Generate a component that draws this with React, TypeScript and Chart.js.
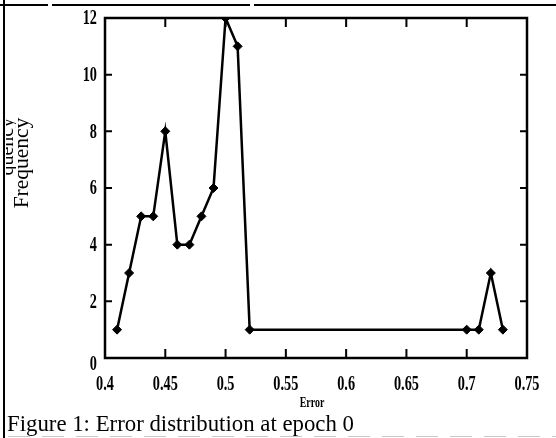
import React, { useEffect, useRef } from "react";
import { Chart, registerables } from "chart.js";

Chart.register(...registerables);

// Error histogram at epoch 0
const errors = [0.41, 0.42, 0.43, 0.44, 0.45, 0.46, 0.47, 0.48, 0.49, 0.5, 0.51, 0.52, 0.7, 0.71, 0.72, 0.73];
const frequencies = [1, 3, 5, 5, 8, 4, 4, 5, 6, 12, 11, 1, 1, 1, 3, 1];

const xTickLabels = ["0.4", "0.45", "0.5", "0.55", "0.6", "0.65", "0.7", "0.75"];
const yTickLabels = ["0", "2", "4", "6", "8", "10", "12"];

const xTitle = "Error";
const yTitle = "Frequency";
const caption = "Figure 1: Error distribution at epoch 0";

const W = 556;
const H = 438;

const TICK_FONT = 'bold 21px "Liberation Serif"';
const SQUEEZE = 0.68;

function squeezedText(ctx: CanvasRenderingContext2D, text: string, x: number, y: number, sx: number) {
  ctx.save();
  ctx.translate(x, y);
  ctx.scale(sx, 1);
  ctx.fillText(text, 0, 0);
  ctx.restore();
}

const framePlugin = {
  id: "framePlugin",
  afterDraw(chart: any) {
    const ctx: CanvasRenderingContext2D = chart.ctx;
    const { left, right, top, bottom } = chart.chartArea;
    const xs = chart.scales.x;
    const ys = chart.scales.y;
    ctx.save();
    ctx.strokeStyle = "#000";
    ctx.fillStyle = "#000";

    // plot frame
    ctx.lineWidth = 2.5;
    ctx.strokeRect(left, top, right - left, bottom - top);

    // inward ticks on all four sides
    ctx.lineWidth = 2;
    ctx.beginPath();
    xTickLabels.forEach((lab, i) => {
      if (i === 0 || i === xTickLabels.length - 1) return;
      const px = xs.getPixelForValue(Number(lab));
      ctx.moveTo(px, bottom);
      ctx.lineTo(px, bottom - 9);
      ctx.moveTo(px, top);
      ctx.lineTo(px, top + 9);
    });
    yTickLabels.forEach((lab, i) => {
      if (i === 0 || i === yTickLabels.length - 1) return;
      const py = ys.getPixelForValue(Number(lab));
      ctx.moveTo(left, py);
      ctx.lineTo(left + 7, py);
      ctx.moveTo(right, py);
      ctx.lineTo(right - 7, py);
    });
    ctx.stroke();

    // tick labels
    ctx.font = TICK_FONT;
    ctx.textBaseline = "middle";
    ctx.textAlign = "center";
    xTickLabels.forEach((lab) => {
      const px = xs.getPixelForValue(Number(lab));
      squeezedText(ctx, lab, px, bottom + 27, SQUEEZE);
    });
    ctx.textAlign = "right";
    yTickLabels.forEach((lab, i) => {
      const py = ys.getPixelForValue(Number(lab)) + (i === 0 ? 7 : 1);
      squeezedText(ctx, lab, left - 8, py, SQUEEZE);
    });

    // x axis title
    ctx.font = 'bold 15px "Liberation Serif"';
    ctx.textAlign = "center";
    ctx.textBaseline = "middle";
    squeezedText(ctx, xTitle, (left + right) / 2 - 4, bottom + 45, 0.66);

    // y axis title, with an offset copy cut by the page edge
    ctx.font = '21.5px "Liberation Serif"';
    ctx.textAlign = "center";
    ctx.textBaseline = "alphabetic";
    ctx.save();
    ctx.translate(28, 163);
    ctx.rotate(-Math.PI / 2);
    ctx.fillText(yTitle, 0, 0);
    ctx.restore();

    ctx.save();
    ctx.beginPath();
    ctx.rect(6, 110, 10, 66);
    ctx.clip();
    ctx.font = '20px "Liberation Serif"';
    ctx.translate(13, 160);
    ctx.rotate(-Math.PI / 2);
    ctx.fillText(yTitle, 0, 0);
    ctx.restore();

    // caption
    ctx.font = '22.8px "Liberation Serif"';
    ctx.textAlign = "left";
    ctx.textBaseline = "alphabetic";
    ctx.fillText(caption, 7, 431);

    // page edges
    ctx.lineWidth = 2;
    ctx.beginPath();
    ctx.moveTo(4, 0);
    ctx.lineTo(4, H);
    ctx.moveTo(0, 5);
    ctx.lineTo(48, 5);
    ctx.moveTo(52, 5);
    ctx.lineTo(250, 5);
    ctx.moveTo(254, 5);
    ctx.lineTo(W, 5);
    ctx.stroke();

    ctx.strokeStyle = "#c8c8c8";
    ctx.lineWidth = 1;
    ctx.setLineDash([22, 12]);
    ctx.beginPath();
    ctx.moveTo(8, 436.5);
    ctx.lineTo(W, 436.5);
    ctx.stroke();
    ctx.restore();
  },
};

export default function App() {
  const canvasRef = useRef<HTMLCanvasElement | null>(null);

  useEffect(() => {
    document.body.style.margin = "0";
    const canvas = canvasRef.current;
    if (!canvas) return;
    const chart = new Chart(canvas, {
      type: "line",
      data: {
        datasets: [
          {
            data: errors.map((e, i) => ({ x: e, y: frequencies[i] })),
            borderColor: "#000",
            backgroundColor: "#000",
            borderWidth: 2.5,
            pointStyle: "rectRot",
            pointRadius: 4.5,
            pointBorderWidth: 1,
            tension: 0,
          },
        ],
      },
      options: {
        responsive: false,
        animation: false,
        devicePixelRatio: 1,
        layout: { padding: { left: 0, top: 18, right: W - 527, bottom: 0 } },
        plugins: { legend: { display: false }, tooltip: { enabled: false } },
        scales: {
          x: {
            type: "linear",
            min: 0.4,
            max: 0.75,
            ticks: { display: false },
            grid: { display: false },
            border: { display: false },
            afterFit: (s: any) => {
              s.height = H - 358;
            },
          },
          y: {
            min: 0,
            max: 12,
            ticks: { display: false },
            grid: { display: false },
            border: { display: false },
            afterFit: (s: any) => {
              s.width = 105;
            },
          },
        },
      },
      plugins: [framePlugin],
    });
    return () => chart.destroy();
  }, []);

  return (
    <div style={{ width: W, height: H, background: "#fff" }}>
      <canvas ref={canvasRef} width={W} height={H} style={{ display: "block" }} />
    </div>
  );
}
